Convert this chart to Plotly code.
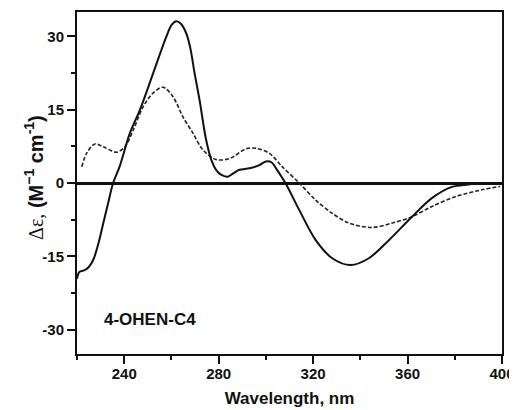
import plotly.graph_objects as go

# Solid curve (4-OHEN-C4, first spectrum)
solid_x = [220, 221, 223, 225, 227, 229, 231, 233, 235.3, 238, 242.4, 246.6, 252.2, 257.8,
           260, 262, 264, 266.3, 268, 269.8, 271.9, 274.7, 277, 278.9, 281, 283.8, 286,
           288.8, 293, 297, 300, 302.5, 304.3, 308.5, 314.1, 321.1, 328.1, 335.9, 343.6,
           352.1, 361.9, 370.3, 378.8, 385.8, 390]
solid_y = [-19.6, -18.2, -17.9, -17.2, -15.6, -12.5, -8.5, -4.5, 0, 3.3, 10.2, 14.9, 22.4, 29.9,
           32.3, 33.1, 32.6, 30.6, 27.6, 22.5, 17, 8.8, 4.6, 2.7, 1.7, 1.3, 1.9,
           2.7, 3.0, 3.6, 4.4, 4.2, 3.0, -0.2, -5.5, -11.7, -15.4, -16.8, -15.4,
           -11.7, -6.9, -3.1, -0.8, -0.3, 0]

# Dashed curve (second spectrum)
dash_x = [222, 224.1, 227.6, 231.1, 236.8, 240.3, 243.8, 248, 252.2, 256.4, 260.6, 264.8,
          269.1, 273.3, 278.9, 284.6, 291.6, 295.8, 301.4, 307, 314.1, 321.1, 328.1, 335.2,
          345, 353.5, 361.9, 370.3, 380.2, 391.4, 399.2]
dash_y = [3.3, 6.1, 8.0, 7.4, 6.3, 7.4, 10.8, 15.6, 18.4, 19.6, 17.7, 13.6,
          10.2, 6.8, 4.8, 5.0, 7.0, 7.1, 6.1, 3.3, 0, -3.5, -6.2, -8.2,
          -9.1, -8.2, -6.9, -4.8, -2.8, -1.4, -0.7]

x_ticks = [240, 280, 320, 360, 400]
y_ticks = [-30, -15, 0, 15, 30]
y_tick_text = ["-30", "-15", "0", "15", "30"]
label = "4-OHEN-C4"
x_title = "Wavelength, nm"
y_title = ("<span style='font-family:Liberation Serif,Times New Roman,serif;font-weight:normal'>Δε,</span>"
           " (M<sup>−1</sup> cm<sup>-1</sup>)")

FONT = "Arial, Liberation Sans, sans-serif"

fig = go.Figure()
fig.add_trace(go.Scatter(x=dash_x, y=dash_y, mode="lines",
                         line=dict(color="#222", width=1.6, dash="4px,2px", shape="spline", smoothing=0.9),
                         showlegend=False))
fig.add_trace(go.Scatter(x=solid_x, y=solid_y, mode="lines",
                         line=dict(color="#111", width=2, shape="spline", smoothing=0.9),
                         showlegend=False))

fig.add_annotation(x=230.4, y=-28, text=label, showarrow=False, xanchor="left", yanchor="middle",
                   font=dict(family=FONT, size=17, color="#111", weight="bold"))

# y-axis title placed as a rotated annotation for precise positioning
fig.add_annotation(xref="paper", yref="paper", x=-0.101, y=0.515, text=y_title, textangle=-90,
                   showarrow=False, xanchor="center", yanchor="middle",
                   font=dict(family=FONT, size=20, color="#111", weight="bold"))

# the page body has an 8px margin, so the figure is sized to fit the 517x410 window
fig.update_layout(
    width=509, height=402,
    margin=dict(l=69, r=15, t=4, b=56),
    plot_bgcolor="white", paper_bgcolor="white",
    font=dict(family=FONT, size=15, color="#111", weight="bold"),
    xaxis=dict(range=[220, 400], tickvals=x_ticks, showgrid=False, zeroline=False, automargin=False,
               showline=True, mirror=True, linewidth=2, linecolor="#111",
               ticks="outside", ticklen=8, tickwidth=2, tickcolor="#111", ticklabelstandoff=-3,
               minor=dict(dtick=20, tick0=220, ticks="outside", ticklen=4, tickwidth=1.5, tickcolor="#111"),
               title=dict(text=x_title, standoff=11,
                          font=dict(family=FONT, size=17, weight="bold"))),
    yaxis=dict(range=[-35, 35], tickvals=y_ticks, ticktext=y_tick_text, showgrid=False, automargin=False,
               zeroline=True, zerolinewidth=2.5, zerolinecolor="#111",
               showline=True, mirror=True, linewidth=2, linecolor="#111",
               ticks="outside", ticklen=8, tickwidth=2, tickcolor="#111",
               minor=dict(dtick=7.5, tick0=0, ticks="outside", ticklen=4, tickwidth=1.5, tickcolor="#111")),
)

fig.write_html("out.html")
